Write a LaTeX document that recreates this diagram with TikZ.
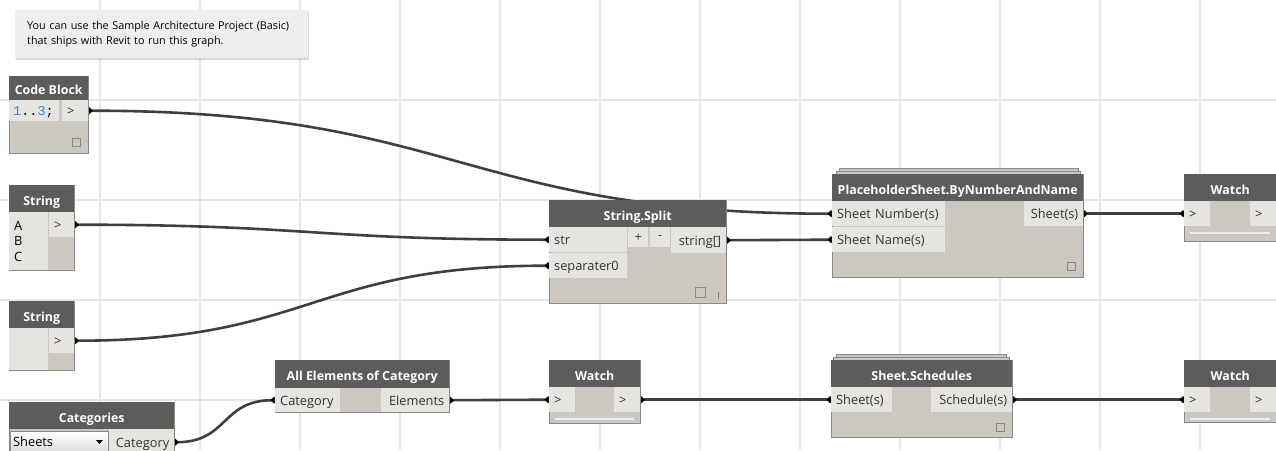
\documentclass[tikz,border=0pt]{standalone}
\usepackage{fontspec}
\newfontfamily\uifont{Open Sans}
\newfontfamily\monofont{Liberation Mono}
\usetikzlibrary{arrows.meta,shadows}
\pgfdeclarelayer{bg}
\pgfsetlayers{bg,main}

\definecolor{hdrgray}{HTML}{5E5C5A}
\definecolor{bodygray}{HTML}{CCC8C1}
\definecolor{cellgray}{HTML}{E6E4E0}
\definecolor{edgegray}{HTML}{8C8984}
\definecolor{gridgray}{HTML}{E6E6E6}
\definecolor{wiregray}{HTML}{3F3F3F}
\definecolor{notegray}{HTML}{EEEEEE}
\definecolor{codeblue}{HTML}{2B8FE8}
\definecolor{labelgray}{HTML}{333333}
\definecolor{barwhite}{HTML}{EEEDEB}

\tikzset{
  gridline/.style={draw=gridgray, line width=2pt},
  note/.style={fill=notegray, anchor=north west, minimum width=293pt, minimum height=48pt,
    text width=269pt, inner xsep=12pt, align=left, text=black,
    font=\uifont\fontsize{10.8}{15}\selectfont,
    drop shadow={shadow xshift=0.5pt, shadow yshift=-1.5pt, opacity=0.15, fill=black}},
  body/.style={fill=bodygray, draw=edgegray, line width=1pt, anchor=north west, inner sep=0pt},
  hdr/.style={fill=hdrgray, text=white, anchor=north west, inner sep=0pt, minimum height=27pt,
    text height=13pt, text depth=0pt, font=\uifont\bfseries\fontsize{12.4}{14}\selectfont},
  cellbase/.style={fill=cellgray, anchor=north west, inner ysep=0pt, inner xsep=5pt, text=labelgray,
    font=\uifont\fontsize{12.8}{15.5}\selectfont},
  cell/.style 2 args={cellbase, text width=#1, minimum height=#2, text height=11pt, text depth=1pt, align=left},
  outcell/.style 2 args={cell={#1}{#2}, align=right},
  btn/.style={cellbase, inner xsep=0pt, minimum width=20pt, minimum height=20pt},
  stack/.style={fill=bodygray, draw=edgegray, line width=0.8pt},
  knob/.style={draw=edgegray, line width=0.8pt},
  bar/.style={draw=barwhite, line width=2pt},
  wire/.style={draw=wiregray, line width=2.6pt, out=0, in=180, looseness=1.26,
    arrows={Circle[length=6pt,black]-Circle[length=6pt,black]}, shorten <=-2pt, shorten >=-2pt},
}

\begin{document}
\begin{tikzpicture}[x=1pt, y=-1pt]
\useasboundingbox (0,0) rectangle (1276,450);

% note
\node[note] (note) at (15,10) {You can use the Sample Architecture Project (Basic)\\that ships with Revit to run this graph.};

% code block
\node[body, minimum width=79pt, minimum height=77pt] (cb) at (9,76) {};
\node[hdr, minimum width=79pt, minimum height=24pt, text height=12pt] (cbT) at (cb.north west) {Code Block};
\node[cell={42pt}{21pt}, inner xsep=4pt, font=\monofont\fontsize{13.5}{15}\selectfont, text=black] (cbCode) at (9,100)
  {\textcolor{codeblue}{1}..\textcolor{codeblue}{3};};
\node[cell={16pt}{21pt}] (cbOut) at (62,100) {>};
\draw[knob] (72,138) rectangle (80,146);

% strings
\node[body, minimum width=65pt, minimum height=85pt] (s1) at (9,185) {};
\node[hdr, minimum width=65pt] (s1T) at (s1.north west) {String};
\node[cellbase, text width=29pt, minimum height=58pt, align=left, text=black] (s1Val) at (9,212) {A\\B\\C};
\node[cell={15pt}{25pt}] (s1Out) at (49,212) {>};

\node[body, minimum width=65pt, minimum height=69pt] (s2) at (9,301) {};
\node[hdr, minimum width=65pt] (s2T) at (s2.north west) {String};
\node[cellbase, text width=29pt, minimum height=42pt] (s2Val) at (9,328) {};
\node[cell={15pt}{25pt}] (s2Out) at (49,328) {>};

% categories
\node[body, minimum width=165pt, minimum height=60pt] (cat) at (9,402) {};
\node[hdr, minimum width=165pt] (catT) at (cat.north west) {Categories};
\node[cellbase, draw=edgegray, top color=white, bottom color=black!13, text=black,
  inner xsep=3pt, text width=92pt, minimum height=21pt, align=left] (catDrop) at (10,431) {Sheets};
\fill[black] (96,440) -- (103,440) -- (99.5,444) -- cycle;
\node[outcell={55pt}{26pt}] (catOut) at (109,429) {Category};

\node[body, minimum width=174pt, minimum height=52pt] (ae) at (275,360) {};
\node[hdr, minimum width=174pt, minimum height=28pt] (aeT) at (ae.north west) {All Elements of Category};
\node[cell={55pt}{24pt}] (aeIn) at (275,388) {Category};
\node[outcell={58pt}{24pt}] (aeOut) at (381,388) {Elements};

% string split
\node[body, minimum width=177pt, minimum height=103pt] (ss) at (549,200) {};
\node[hdr, minimum width=177pt] (ssT) at (ss.north west) {String.Split};
\node[cell={68pt}{25pt}] (ssStr) at (549,227) {str};
\node[cell={68pt}{25pt}] (ssSep) at (549,253) {separater0};
\node[btn] (ssPlus) at (628,227) {+};
\node[btn] (ssMinus) at (650,227) {-};
\node[outcell={45pt}{26pt}] (ssOut) at (671,227) {string[]};
\draw[knob] (695,287) rectangle (705,297);
\draw[knob] (718,292) -- (718,299);

% placeholder sheet
\draw[stack] (839,168) rectangle (1078,176);
\draw[stack] (836,171) rectangle (1080,176);
\node[body, minimum width=251pt, minimum height=103pt] (ph) at (832,174) {};
\node[hdr, minimum width=251pt] (phT) at (ph.north west) {PlaceholderSheet.ByNumberAndName};
\node[cell={103pt}{25pt}] (phNum) at (832,201) {Sheet Number(s)};
\node[cell={103pt}{25pt}] (phName) at (832,227) {Sheet Name(s)};
\node[outcell={49pt}{25pt}] (phOut) at (1024,201) {Sheet(s)};
\draw[knob] (1067,262) rectangle (1075,270);

% watches
\node[body, minimum width=92pt, minimum height=67pt] (w1) at (1184,174) {};
\node[hdr, minimum width=92pt] (w1T) at (w1.north west) {Watch};
\node[cell={16pt}{25pt}] (w1In) at (1184,201) {>};
\node[cell={16pt}{25pt}] (w1Out) at (1250,201) {>};
\draw[bar] (1190,233) -- (1270,233);

\node[body, minimum width=91pt, minimum height=63pt] (w2) at (549,360) {};
\node[hdr, minimum width=91pt] (w2T) at (w2.north west) {Watch};
\node[cell={16pt}{25pt}] (w2In) at (549,387) {>};
\node[cell={16pt}{25pt}] (w2Out) at (614,387) {>};
\draw[bar] (555,419) -- (634,419);

\node[body, minimum width=92pt, minimum height=62pt] (w3) at (1184,360) {};
\node[hdr, minimum width=92pt] (w3T) at (w3.north west) {Watch};
\node[cell={16pt}{25pt}] (w3In) at (1184,387) {>};
\node[cell={16pt}{25pt}] (w3Out) at (1250,387) {>};
\draw[bar] (1190,419) -- (1270,419);

% sheet schedules
\draw[stack] (836,354) rectangle (1006,362);
\draw[stack] (833,357) rectangle (1009,362);
\node[body, minimum width=181pt, minimum height=77pt] (sch) at (831,360) {};
\node[hdr, minimum width=181pt] (schT) at (sch.north west) {Sheet.Schedules};
\node[cell={51pt}{25pt}] (schIn) at (831,387) {Sheet(s)};
\node[outcell={71pt}{25pt}] (schOut) at (931,387) {Schedule(s)};
\draw[knob] (996,423) rectangle (1004,431);

\begin{pgfonlayer}{bg}
  \foreach \x in {100,200,...,1200} \draw[gridline] (\x,0) -- (\x,450);
  \foreach \y in {100,200,300,400} \draw[gridline] (0,\y) -- (1276,\y);

  \draw[wire] (cbOut.east) to (phNum.west);
  \draw[wire] (s1Out.east) to (ssStr.west);
  \draw[wire] (s2Out.east) to (ssSep.west);
  \draw[wire] (ssOut.east) to (phName.west);
  \draw[wire] (phOut.east) to (w1In.west);
  \draw[wire] (catOut.east) to (aeIn.west);
  \draw[wire] (aeOut.east) to (w2In.west);
  \draw[wire] (w2Out.east) to (schIn.west);
  \draw[wire] (schOut.east) to (w3In.west);
\end{pgfonlayer}
\end{tikzpicture}
\end{document}
